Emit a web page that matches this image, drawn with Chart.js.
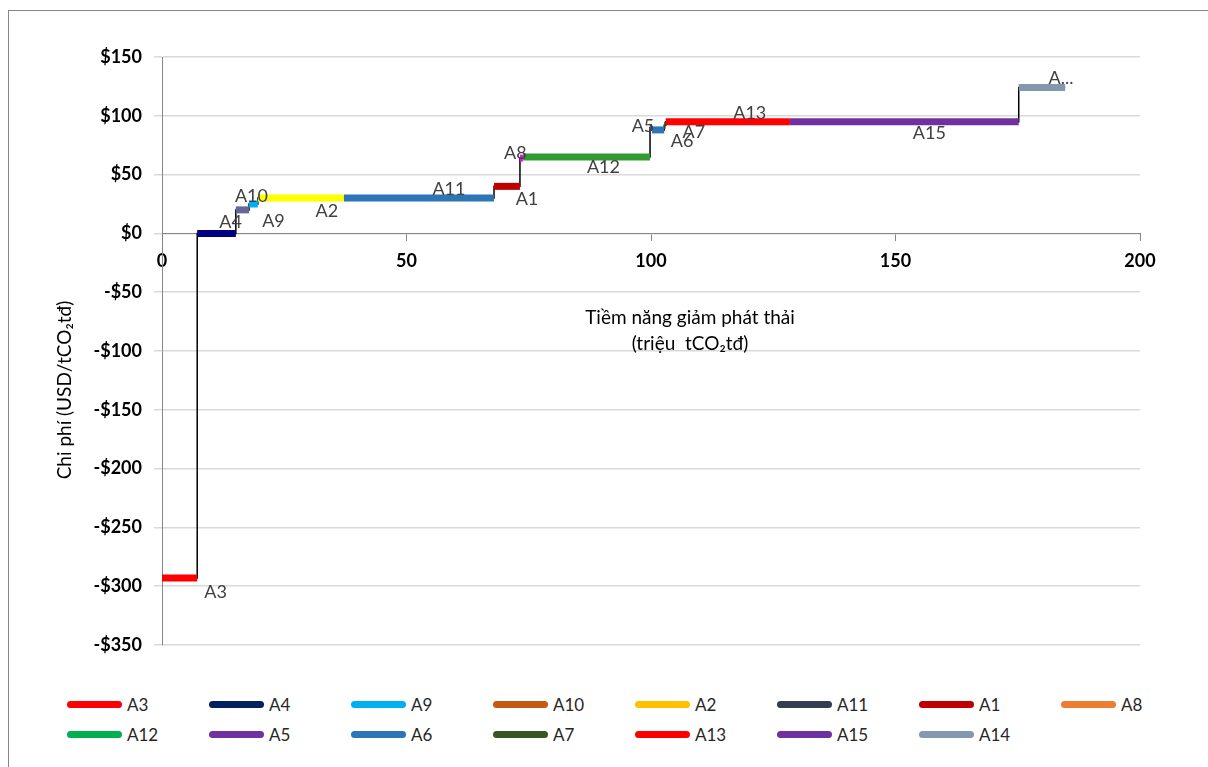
<!DOCTYPE html>
<html>
<head>
<meta charset="utf-8">
<script src="https://cdn.jsdelivr.net/npm/chart.js@4.4.1/dist/chart.umd.min.js"></script>
<style>
  body { margin: 0; background: #fff; font-family: Lato, sans-serif; }
  #frame { position: absolute; left: 8px; top: 10px; width: 1210px; height: 770px; border: 1px solid #868686; overflow: hidden; }
  #wrap { position: absolute; left: 0; top: 0; width: 1210px; height: 680px; }
  #legend { position: absolute; left: 58px; top: 684px; display: grid; grid-template-columns: repeat(8, 142px); row-gap: 12px; }
  .item { display: flex; align-items: center; height: 18px; font-size: 17px; color: #262626; }
  .sym { width: 55px; height: 7px; border-radius: 4px; margin-right: 5px; }
</style>
</head>
<body>
<div id="frame">
  <div id="wrap"><canvas id="macc"></canvas></div>
  <div id="legend"></div>
</div>
<script>
// cac phuong an giam phat thai, theo thu tu tren duong cong
var names = ['A3', 'A4', 'A9', 'A10', 'A2', 'A11', 'A1', 'A8', 'A12', 'A5', 'A6', 'A7', 'A13', 'A15', 'A14'];
// tiem nang giam (trieu tCO2td)
var potential = [7.2, 7.9, 2.7, 1.8, 17.6, 30.7, 5.3, 0.6, 26.0, 0.4, 2.5, 0.3, 25.4, 46.8, 9.5];
// chi phi (USD/tCO2td)
var cost = [-293, 0, 20, 25, 30, 30, 40, 64, 65, 90, 88, 92, 95, 95, 124];
// nhan hien tren do thi
var shownLabels = ['A3', 'A4', 'A9', 'A10', 'A2', 'A11', 'A1', 'A8', 'A12', 'A5', 'A6', 'A7', 'A13', 'A15', 'A...'];

var lineColors = ['#FF0000', '#000080', '#666699', '#00B0F0', '#FFFF00', '#2E75B6', '#C00000', '#FF00FF',
                  '#339933', '#7030A0', '#2E75B6', '#375623', '#FF0000', '#7030A0', '#8497B0'];
var legendColors = ['#FF0000', '#002060', '#00B0F0', '#C55A11', '#FFC000', '#333F50', '#C00000', '#ED7D31',
                    '#00B050', '#7030A0', '#2E75B6', '#375623', '#FF0000', '#7030A0', '#8497B0'];
// vi tri nhan so voi tam doan (px)
var labelOffsets = [[36, 14], [14, -11], [31, 11], [-2, -8], [26, 13], [30, -9], [20, 13], [-6, -5],
                    [17, 10], [-8, -1], [24, 11], [29, 7], [22, -8], [25, 12], [19, -9]];

// diem dau moi doan = tiem nang cong don
var starts = [];
var acc = 0;
for (var i = 0; i < potential.length; i++) {
    starts.push(acc);
    acc += potential[i];
}

var datasets = [];
names.forEach(function(n, i) {
    datasets.push({
        label: n,
        data: [{x: starts[i], y: cost[i]}, {x: starts[i] + potential[i], y: cost[i]}],
        borderColor: lineColors[i],
        borderWidth: 7,
        borderCapStyle: 'butt',
        pointRadius: 0,
        order: 1
    });
});

// duong bac thang noi cac doan
var stepData = [];
names.forEach(function(n, i) {
    stepData.push({x: starts[i], y: cost[i]});
    stepData.push({x: starts[i] + potential[i], y: cost[i]});
});
datasets.push({
    label: 'step',
    data: stepData,
    borderColor: '#000000',
    borderWidth: 1.5,
    pointRadius: 0,
    order: 2
});

var textPlugin = {
    id: 'textPlugin',
    afterDatasetsDraw: function(chart) {
        var ctx = chart.ctx;
        var xs = chart.scales.x, ys = chart.scales.y;
        ctx.save();
        ctx.font = '18px Lato';
        ctx.fillStyle = '#404040';
        ctx.textAlign = 'center';
        ctx.textBaseline = 'middle';
        names.forEach(function(n, i) {
            var cx = xs.getPixelForValue(starts[i] + potential[i] / 2);
            var cy = ys.getPixelForValue(cost[i]);
            ctx.fillText(shownLabels[i], cx + labelOffsets[i][0], cy + labelOffsets[i][1]);
        });
        // ten truc
        ctx.fillStyle = '#000000';
        ctx.font = '19px Lato';
        var area = chart.chartArea;
        ctx.fillText('Tiềm năng giảm phát thải', area.left + 528, area.top + 261);
        ctx.fillText('(triệu  tCO₂tđ)', area.left + 528, area.top + 287);
        ctx.translate(area.left - 97, area.top + 333);
        ctx.rotate(-Math.PI / 2);
        ctx.fillText('Chi phí (USD/tCO₂tđ)', 0, 0);
        ctx.restore();
    }
};

var ctx = document.getElementById('macc').getContext('2d');
var chart = new Chart(ctx, {
    type: 'line',
    data: { datasets: datasets },
    options: {
        responsive: true,
        maintainAspectRatio: false,
        animation: false,
        layout: { padding: { left: 83, right: 79, top: 46, bottom: 46 } },
        plugins: {
            legend: { display: false },
            tooltip: { enabled: false }
        },
        scales: {
            x: {
                type: 'linear',
                position: { y: 0 },
                min: 0,
                max: 200,
                ticks: { stepSize: 50, color: '#000', padding: 10, font: { family: 'Lato', size: 18, weight: 'bold' }, maxRotation: 0 },
                grid: { drawOnChartArea: false, drawTicks: true, tickLength: 7, color: '#868686' },
                border: { color: '#868686', width: 1 }
            },
            y: {
                min: -350,
                max: 150,
                afterFit: function(scale) { scale.width = 70; },
                ticks: {
                    stepSize: 50,
                    color: '#000',
                    padding: 12,
                    font: { family: 'Lato', size: 18, weight: 'bold' },
                    callback: function(v) { return (v < 0 ? '-$' : '$') + Math.abs(v); }
                },
                grid: { color: '#D9D9D9', lineWidth: 1.5, tickLength: 8 },
                border: { color: '#868686', width: 1 }
            }
        }
    },
    plugins: [textPlugin]
});

// chu giai
var legend = document.getElementById('legend');
names.forEach(function(n, i) {
    var item = document.createElement('div');
    item.className = 'item';
    var sym = document.createElement('span');
    sym.className = 'sym';
    sym.style.background = legendColors[i];
    var txt = document.createElement('span');
    txt.textContent = n;
    item.appendChild(sym);
    item.appendChild(txt);
    legend.appendChild(item);
});
</script>
</body>
</html>
